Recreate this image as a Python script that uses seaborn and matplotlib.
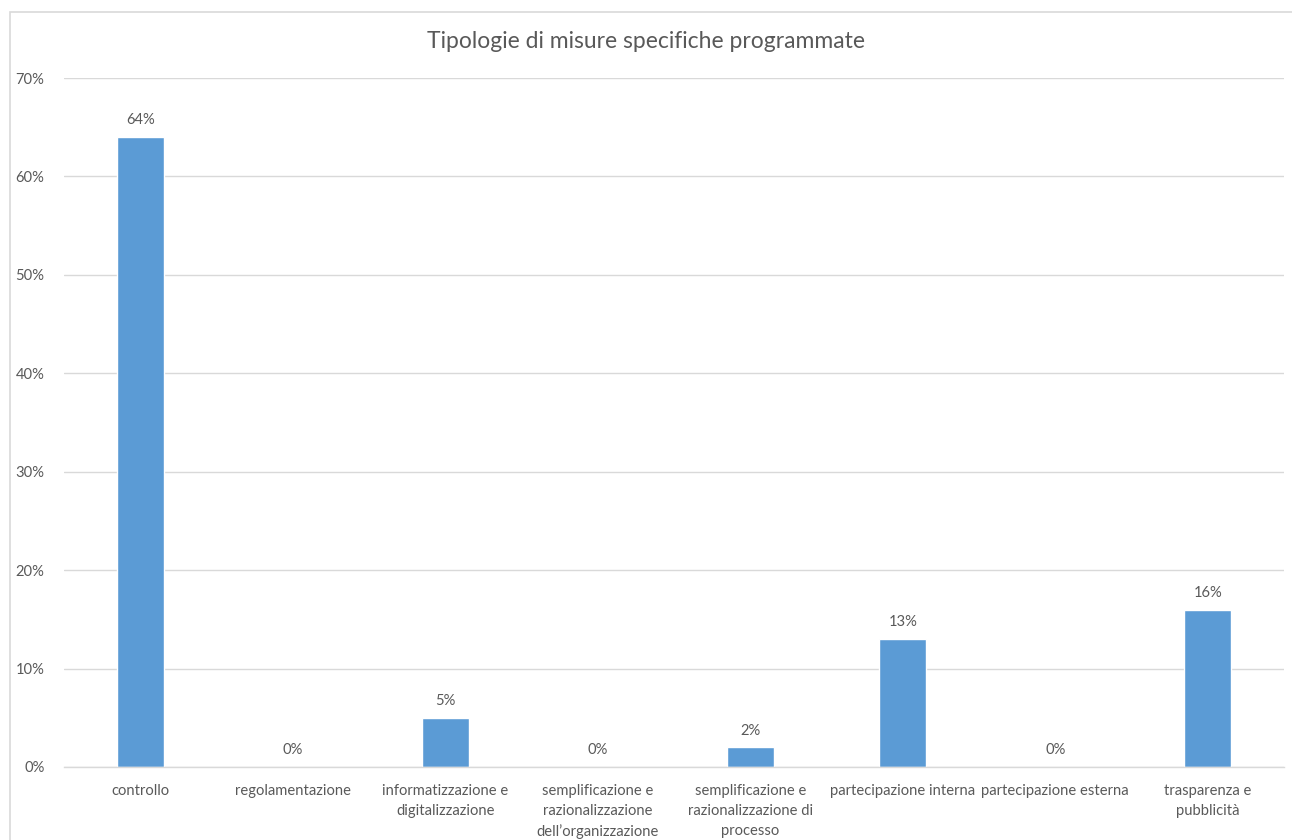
import matplotlib
matplotlib.use("Agg")
import matplotlib.pyplot as plt
import seaborn as sns
import pandas as pd
from matplotlib.ticker import PercentFormatter
from matplotlib.patches import Rectangle

# data
categories = ["controllo", "regolamentazione", "informatizzazione e\ndigitalizzazione",
              "semplificazione e\nrazionalizzazione\ndell\u2019organizzazione",
              "semplificazione e\nrazionalizzazione di\nprocesso",
              "partecipazione interna", "partecipazione esterna",
              "trasparenza e\npubblicit\u00e0"]
values = [64, 0, 5, 0, 2, 13, 0, 16]

df = pd.DataFrame({"categoria": categories, "quota": [v / 100 for v in values]})

sns.set_theme(style="white")
plt.rcParams["font.family"] = ["Lato", "DejaVu Sans"]
text_col = "#595959"
grid_col = "#d9d9d9"
bar_col = "#5b9bd5"

fig = plt.figure(figsize=(12.92, 8.4), dpi=100)
ax = fig.add_axes([64 / 1292, 1 - 767 / 840, 1220 / 1292, 689 / 840])

# outer chart frame (cut off at right and bottom like the original)
fig.patches.append(Rectangle((10 / 1292, -0.1), 1.2, 1.1 - 12 / 840,
                             transform=fig.transFigure, fill=False,
                             edgecolor=grid_col, linewidth=1.2))

sns.barplot(data=df, x="categoria", y="quota", color=bar_col, width=0.31,
            saturation=1, ax=ax)

ax.set_ylim(0, 0.7)
ax.set_yticks([i / 10 for i in range(8)])
ax.yaxis.set_major_formatter(PercentFormatter(1.0, decimals=0))
ax.yaxis.grid(True, color=grid_col, linewidth=1)
ax.set_axisbelow(True)
ax.set_xlim(-0.5, len(categories) - 0.5)

for s in ["top", "right", "left"]:
    ax.spines[s].set_visible(False)
ax.spines["bottom"].set_color(grid_col)
ax.spines["bottom"].set_linewidth(1)

ax.tick_params(axis="both", length=0, colors=text_col, labelsize=10.6)
ax.tick_params(axis="y", pad=14)
ax.tick_params(axis="x", pad=12)
for lbl in ax.get_xticklabels():
    lbl.set_linespacing(1.55)

ax.set_xlabel("")
ax.set_ylabel("")

ax.bar_label(ax.containers[0], labels=[f"{v}%" for v in values],
             padding=7, color=text_col, fontsize=10.6)

fig.text(0.5, 1 - 42 / 840, "Tipologie di misure specifiche programmate",
         ha="center", va="center", fontsize=16.5, color=text_col)

fig.savefig("out.png", dpi=100)
